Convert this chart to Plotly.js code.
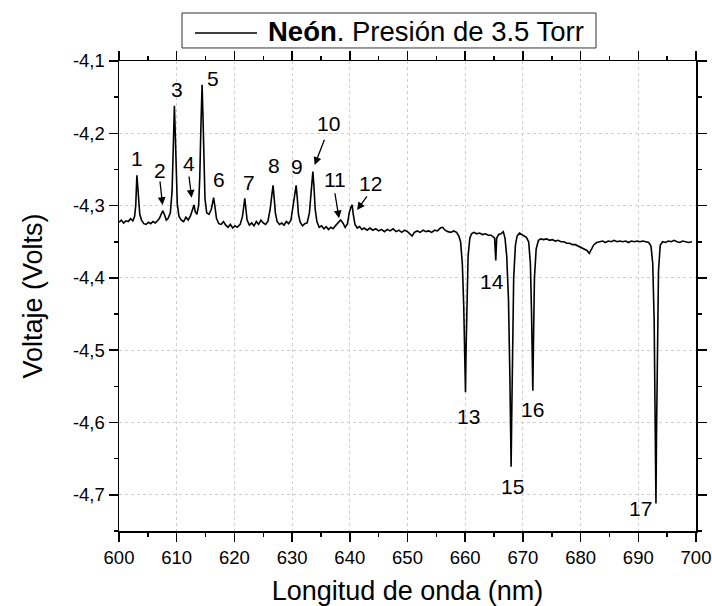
<!DOCTYPE html>
<html>
<head>
<meta charset="utf-8">
<script src="https://cdn.plot.ly/plotly-3.0.1.min.js"></script>
<style>html,body{margin:0;padding:0;background:#fff;}#chart{width:712px;height:606px;}</style>
</head>
<body>
<div id="chart"></div>
<script>
// Wavelength (nm) and voltage (V)
const wavelength = [
600.0,600.4,600.8,601.2,601.6,602.0,602.4,602.7,602.9,603.0,603.1,603.2,603.4,603.6,603.9,604.3,604.7,605.1,605.5,605.9,606.3,606.7,607.0,
607.3,607.6,607.9,608.2,608.5,608.9,609.2,609.4,609.6,609.75,609.9,610.1,610.4,610.8,611.2,611.6,612.0,612.4,612.8,613.0,613.2,613.5,613.8,
614.0,614.2,614.4,614.55,614.7,614.9,615.2,615.6,616.0,616.2,616.4,616.6,616.9,617.3,617.7,618.1,618.5,618.9,619.3,619.7,620.1,620.5,621.0,
621.4,621.6,621.8,622.0,622.2,622.6,623.0,623.4,623.8,624.2,624.6,625.0,625.4,625.8,626.2,626.45,626.7,626.9,627.1,627.4,627.8,628.2,628.6,
629.0,629.4,629.8,630.2,630.45,630.7,630.9,631.1,631.4,631.8,632.2,632.6,633.0,633.3,633.6,633.8,634.0,634.3,634.7,635.1,635.5,635.9,636.3,
636.7,637.1,637.5,638.0,638.4,638.8,639.2,639.6,639.9,640.2,640.4,640.6,640.9,641.3,641.7,642.1,642.5,643.0,643.5,644.0,644.5,645.0,645.5,
646.0,646.5,647.0,647.5,648.0,648.5,649.0,649.5,650.0,650.5,650.8,651.2,651.7,652.2,652.7,653.2,653.7,654.2,654.7,655.2,655.7,656.1,656.5,
657.0,657.5,658.0,658.5,658.9,659.2,659.5,659.75,659.95,660.05,660.15,660.3,660.5,660.8,661.1,661.5,662.0,662.5,663.0,663.5,664.0,664.5,
665.1,665.3,665.45,665.8,666.2,666.6,666.9,667.2,667.5,667.75,667.9,667.96,668.05,668.2,668.4,668.7,669.0,669.4,669.8,670.2,670.6,671.0,
671.3,671.5,671.65,671.72,671.85,672.0,672.3,672.7,673.1,673.6,674.1,674.6,675.1,675.6,676.1,676.6,677.1,677.6,678.1,678.6,679.1,679.6,
680.1,680.6,681.1,681.5,681.9,682.3,682.8,683.3,683.8,684.3,684.8,685.3,685.8,686.3,686.8,687.3,687.8,688.3,688.8,689.3,689.8,690.3,690.8,
691.3,691.8,692.2,692.5,692.75,692.95,693.06,693.15,693.3,693.5,693.8,694.2,694.7,695.2,695.7,696.2,696.7,697.2,697.7,698.2,698.7,699.3
];
const voltage = [
-4.323,-4.320,-4.324,-4.321,-4.322,-4.318,-4.321,-4.315,-4.300,-4.275,-4.258,-4.268,-4.295,-4.312,-4.320,-4.325,-4.326,-4.323,-4.325,-4.322,-4.324,-4.320,-4.318,
-4.312,-4.307,-4.313,-4.320,-4.318,-4.310,-4.280,-4.220,-4.162,-4.200,-4.260,-4.298,-4.315,-4.320,-4.322,-4.316,-4.320,-4.314,-4.304,-4.299,-4.308,-4.312,-4.300,
-4.260,-4.190,-4.133,-4.175,-4.245,-4.290,-4.310,-4.312,-4.305,-4.295,-4.289,-4.300,-4.318,-4.325,-4.326,-4.322,-4.327,-4.330,-4.326,-4.331,-4.328,-4.330,-4.326,
-4.315,-4.300,-4.290,-4.305,-4.320,-4.327,-4.324,-4.328,-4.322,-4.326,-4.320,-4.324,-4.326,-4.322,-4.305,-4.288,-4.272,-4.290,-4.310,-4.322,-4.326,-4.324,-4.327,
-4.322,-4.325,-4.320,-4.300,-4.285,-4.272,-4.290,-4.312,-4.323,-4.328,-4.325,-4.324,-4.310,-4.280,-4.253,-4.275,-4.305,-4.322,-4.330,-4.328,-4.332,-4.329,-4.333,
-4.330,-4.332,-4.328,-4.323,-4.320,-4.324,-4.330,-4.325,-4.310,-4.302,-4.299,-4.312,-4.326,-4.331,-4.329,-4.333,-4.331,-4.334,-4.331,-4.334,-4.332,-4.335,-4.333,
-4.336,-4.333,-4.335,-4.332,-4.336,-4.334,-4.337,-4.334,-4.336,-4.340,-4.342,-4.337,-4.335,-4.337,-4.334,-4.336,-4.335,-4.337,-4.334,-4.335,-4.331,-4.330,-4.334,
-4.336,-4.337,-4.335,-4.337,-4.342,-4.350,-4.380,-4.440,-4.520,-4.558,-4.500,-4.420,-4.370,-4.345,-4.339,-4.337,-4.339,-4.338,-4.340,-4.339,-4.341,-4.341,
-4.345,-4.376,-4.345,-4.340,-4.339,-4.336,-4.345,-4.370,-4.430,-4.540,-4.630,-4.661,-4.600,-4.480,-4.400,-4.355,-4.342,-4.338,-4.340,-4.342,-4.344,-4.350,
-4.380,-4.450,-4.530,-4.556,-4.480,-4.400,-4.360,-4.348,-4.346,-4.347,-4.346,-4.348,-4.347,-4.349,-4.348,-4.350,-4.350,-4.352,-4.352,-4.354,-4.354,-4.356,
-4.357,-4.359,-4.362,-4.366,-4.360,-4.354,-4.351,-4.350,-4.349,-4.351,-4.349,-4.350,-4.348,-4.350,-4.349,-4.350,-4.349,-4.351,-4.349,-4.350,-4.349,-4.350,-4.349,
-4.350,-4.351,-4.356,-4.380,-4.460,-4.600,-4.712,-4.620,-4.480,-4.390,-4.355,-4.350,-4.351,-4.349,-4.350,-4.348,-4.350,-4.351,-4.349,-4.350,-4.351,-4.350
];

// Peak labels
const peakLabels = ['1','2','3','4','5','6','7','8','9','10','11','12','13','14','15','16','17'];
const labelX = [603.09,607.03,610.10,612.06,616.27,617.31,622.46,626.80,630.91,636.39,637.38,643.57,660.50,664.56,668.21,671.67,690.46];
const labelY = [-4.2346,-4.2508,-4.1391,-4.2415,-4.1239,-4.2632,-4.2683,-4.2452,-4.2462,-4.1862,-4.2632,-4.2692,-4.5920,-4.4043,-4.6878,-4.5817,-4.7187];

// Arrows (tail -> head)
const arrowTailX = [607.08,612.11,635.70,637.38,643.16];
const arrowTailY = [-4.2646,-4.2577,-4.2069,-4.2808,-4.2853];
const arrowHeadX = [607.55,612.58,633.91,638.13,641.25];
const arrowHeadY = [-4.2992,-4.2891,-4.2438,-4.3176,-4.3061];

// Axis ticks
const xTickVals = [600,610,620,630,640,650,660,670,680,690,700];
const xTickText = ['600','610','620','630','640','650','660','670','680','690','700'];
const yTickVals = [-4.7,-4.6,-4.5,-4.4,-4.3,-4.2,-4.1];
const yTickText = ['-4,7','-4,6','-4,5','-4,4','-4,3','-4,2','-4,1'];

// Legend text
const seriesName = '<b>Neón</b>. Presión de 3.5 Torr';

const FONT = 'Liberation Sans, Arial, sans-serif';

const annotations = [];
for (let i = 0; i < peakLabels.length; i++) {
  annotations.push({
    x: labelX[i], y: labelY[i], xref: 'x', yref: 'y',
    text: peakLabels[i], showarrow: false,
    font: {family: FONT, size: 21, color: '#000'},
    xanchor: 'center', yanchor: 'middle'
  });
}
for (let i = 0; i < arrowTailX.length; i++) {
  annotations.push({
    x: arrowHeadX[i], y: arrowHeadY[i], xref: 'x', yref: 'y',
    ax: arrowTailX[i], ay: arrowTailY[i], axref: 'x', ayref: 'y',
    text: '', showarrow: true, arrowhead: 2, arrowsize: 1.2, arrowwidth: 1.3,
    arrowcolor: '#000', standoff: 0, startstandoff: 0
  });
}
// legend text (drawn as a boxed legend above the plot)
annotations.push({
  x: 0.2548, y: 1.0638, xref: 'paper', yref: 'paper',
  text: seriesName, showarrow: false, xanchor: 'left', yanchor: 'middle',
  font: {family: FONT, size: 27.5, color: '#000'}
});

const shapes = [
  {type: 'rect', xref: 'paper', yref: 'paper', x0: 0.1092, x1: 0.8267, y0: 1.0277, y1: 1.1021,
   line: {color: '#333', width: 1}, fillcolor: '#fff', layer: 'below'},
  {type: 'line', xref: 'paper', yref: 'paper', x0: 0.1317, x1: 0.2392, y0: 1.0596, y1: 1.0596,
   line: {color: '#000', width: 1.5}}
];

const axisCommon = {
  showline: true, linecolor: '#000', linewidth: 1.5, mirror: 'allticks',
  ticks: 'outside', ticklen: 9, tickwidth: 1.5, tickcolor: '#000',
  showgrid: true, gridcolor: '#cfcfcf', griddash: 'dot', gridwidth: 1,
  zeroline: false,
  tickfont: {family: FONT, size: 18.5, color: '#000'}
};

const trace = {
  x: wavelength, y: voltage, type: 'scatter', mode: 'lines',
  name: seriesName,
  line: {color: '#000', width: 1.6}
};

const layout = {
  width: 712, height: 606,
  margin: {l: 119, r: 16, t: 61, b: 75},
  paper_bgcolor: '#fff', plot_bgcolor: '#fff',
  font: {family: FONT, color: '#000'},
  showlegend: false,
  xaxis: Object.assign({}, axisCommon, {
    range: [600, 700], tickmode: 'array', tickvals: xTickVals, ticktext: xTickText,
    minor: {dtick: 5, tick0: 600, ticklen: 4, tickwidth: 1.5, tickcolor: '#000', ticks: 'outside', showgrid: false},
    title: {text: 'Longitud de onda (nm)', font: {family: FONT, size: 27, color: '#000'}, standoff: 14}
  }),
  yaxis: Object.assign({}, axisCommon, {
    range: [-4.75, -4.1], tickmode: 'array', tickvals: yTickVals, ticktext: yTickText,
    minor: {dtick: 0.05, tick0: -4.1, ticklen: 4, tickwidth: 1.5, tickcolor: '#000', ticks: 'outside', showgrid: false},
    title: {text: 'Voltaje (Volts)', font: {family: FONT, size: 27, color: '#000'}, standoff: 22}
  }),
  annotations: annotations,
  shapes: shapes
};

Plotly.newPlot('chart', [trace], layout, {displayModeBar: false, staticPlot: true});
</script>
</body>
</html>
